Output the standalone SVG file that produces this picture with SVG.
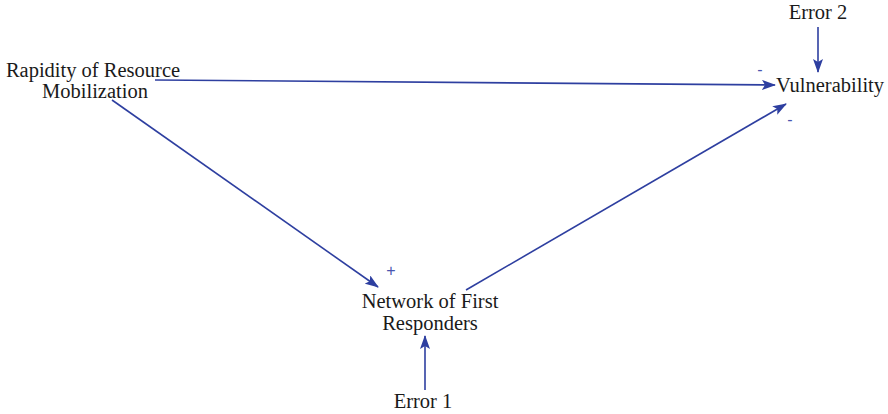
<svg xmlns="http://www.w3.org/2000/svg" width="888" height="414" viewBox="0 0 888 414">
  <style>
    .lbl { font-family: "Liberation Serif", "Times New Roman", serif; font-size: 20.5px; fill: #1a1a1a; text-anchor: middle; }
    .sign { font-family: "Liberation Sans", Arial, sans-serif; font-size: 16px; fill: #4a56b0; text-anchor: middle; }
    .link { stroke: #2e3fa0; stroke-width: 1.6; fill: none; marker-end: url(#arrow); }
  </style>
  <defs>
    <marker id="arrow" viewBox="0 0 14 10" refX="13" refY="5" markerWidth="14" markerHeight="10" markerUnits="userSpaceOnUse" orient="auto">
      <path d="M0,0 L14,5 L0,10 L3,5 Z" fill="#2e3fa0"/>
    </marker>
  </defs>
  <rect width="888" height="414" fill="#ffffff"/>

  <g id="connectors">
    <line class="link" x1="155" y1="80" x2="775" y2="85"/>
    <line class="link" x1="112" y1="100" x2="378" y2="287"/>
    <line class="link" x1="466" y1="290" x2="786" y2="104"/>
    <line class="link" x1="818" y1="27" x2="818" y2="72"/>
    <line class="link" x1="425" y1="390" x2="425" y2="336"/>
    <text class="sign" x="760" y="75">-</text>
    <text class="sign" x="790" y="125">-</text>
    <text class="sign" x="391" y="276">+</text>
  </g>

  <g id="rapidity">
    <text class="lbl" x="93" y="77">Rapidity of Resource</text>
    <text class="lbl" x="95" y="98">Mobilization</text>
  </g>
  <g id="vulnerability">
    <text class="lbl" x="830" y="92">Vulnerability</text>
  </g>
  <g id="error2">
    <text class="lbl" x="818" y="19">Error 2</text>
  </g>
  <g id="network">
    <text class="lbl" x="430" y="308">Network of First</text>
    <text class="lbl" x="430" y="330">Responders</text>
  </g>
  <g id="error1">
    <text class="lbl" x="423" y="408">Error 1</text>
  </g>
</svg>
